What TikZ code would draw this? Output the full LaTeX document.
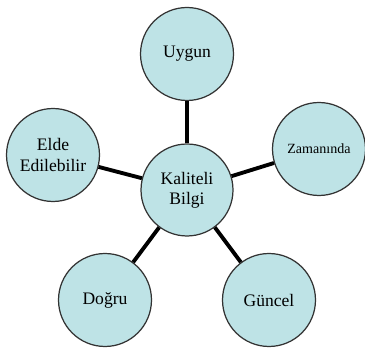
\documentclass[tikz,border=0pt]{standalone}
\usepackage{fontspec}
\setmainfont{Liberation Serif}
\usepackage{tikz}
\usetikzlibrary{positioning}
\definecolor{bubblefill}{HTML}{BEE3E6}
\definecolor{bubbleline}{HTML}{333333}

\begin{document}
\begin{tikzpicture}[x=0.02cm, y=0.02cm,
    bubble/.style={circle, draw=bubbleline, line width=0.7pt, fill=bubblefill,
      minimum size=1.86cm, inner sep=1pt, align=center, font=\fontsize{10}{11.5}\selectfont},
    spoke/.style={line width=2.2pt, black}]
  \useasboundingbox (0,0) rectangle (365,351);

  % Merkez
  \node[bubble, minimum size=1.84cm] (kaliteli) at (187,161) {Kaliteli\\Bilgi};

  % Dis halkalar
  \node[bubble] (uygun) at (187,297) {Uygun};
  \node[bubble] (elde) at (53,196) {Elde\\Edilebilir};
  \node[bubble, font=\fontsize{8}{9}\selectfont] (zaman) at (319,202) {Zamanında};
  \node[bubble] (dogru) at (105,51) {Doğru};
  \node[bubble] (guncel) at (269,51) {Güncel};

  % Baglantilar
  \foreach \n in {uygun, elde, zaman, dogru, guncel}{
    \draw[spoke] (kaliteli) -- (\n);
  }
\end{tikzpicture}
\end{document}
